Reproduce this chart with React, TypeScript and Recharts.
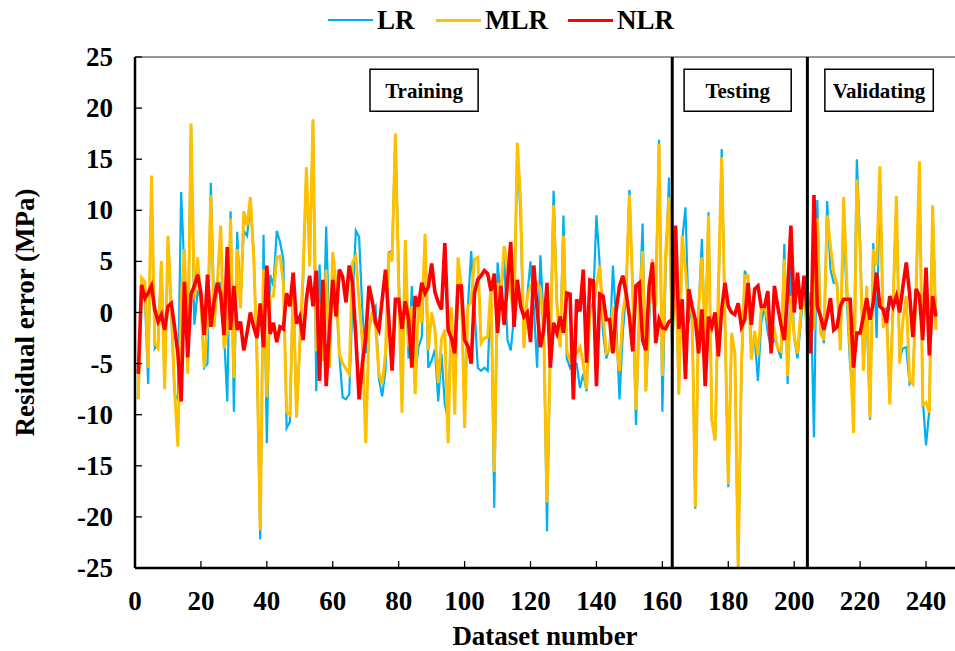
import React from 'react';
import { LineChart, Line, XAxis, YAxis, ReferenceLine, ReferenceArea, Label } from 'recharts';

// residual errors per dataset number (1..243)
const lrErrors = [
  -8.0, 3.0, 1.5, -7.0, 12.8, -3.5, -3.0, 5.0, -7.0, 6.8,
  0.0, -8.0, -8.5, 11.8, 4.0, -3.0, 18.3, -1.2, 2.0, 1.5,
  -5.4, -5.0, 12.7, 0.5, 2.0, 3.0, -2.0, -8.7, 9.9, -9.7,
  7.9, 1.0, 8.0, 7.5, 10.5, 6.0, -4.5, -22.2, 7.6, -12.8,
  3.7, 2.6, 8.0, 6.9, 5.2, -11.3, -10.7, 3.5, -10.0, -3.5,
  3.0, 13.8, 5.2, 18.5, -7.7, 4.7, -4.7, 8.4, -2.5, 4.2,
  2.0, -4.2, -8.3, -8.5, -8.0, 1.0, 8.0, 7.4, 0.0, -4.0,
  -1.7, 0.0, 0.6, -6.5, -8.2, -5.6, 5.9, 6.0, 17.2, 4.2,
  -8.0, 5.0, -4.5, 2.6, -6.0, -3.4, -2.4, 6.0, -5.4, -4.7,
  -3.6, -8.7, -4.0, -9.0, -10.5, 0.0, -8.0, 3.0, 2.0, -9.0,
  0.6, 6.0, 0.6, -5.4, -5.7, -5.4, -5.7, 2.6, -19.1, 4.9,
  1.5, 5.5, -2.7, -3.7, -0.4, 16.3, 9.0, -3.2, 1.6, 5.0,
  0.6, -5.4, 5.6, -1.0, -21.4, -3.0, 11.9, 1.0, -3.4, 9.5,
  -4.5, -5.4, -4.8, -5.0, -7.4, -6.0, -7.7, 0.0, 1.0, 9.5,
  4.6, -2.0, -4.5, -3.4, 4.6, -1.0, -8.5, -2.0, 2.0, 12.0,
  2.0, -11.0, 0.0, 8.7, -7.7, -1.0, 5.2, 2.0, 16.9, -9.7,
  4.0, 13.2, -4.0, 5.0, -8.0, 7.0, 10.3, -1.0, 0.6, -19.2,
  0.3, 7.2, -4.0, 9.8, -10.5, -12.5, 1.0, 16.0, -1.0, -17.1,
  -2.0, -4.0, -25.0, -6.0, 4.1, 3.2, -3.5, -2.5, -6.7, -1.0,
  0.6, -2.0, -3.5, -2.5, -3.5, -4.5, 6.7, -7.0, 5.0, -2.5,
  -4.5, -1.0, 2.6, -3.0, 2.0, -12.2, 11.0, -1.0, -3.0, 10.9,
  4.2, 2.9, 2.9, -2.5, 8.8, 1.0, -5.5, -6.5, 15.0, 7.0,
  -5.0, 0.0, -10.5, 6.8, -2.5, 13.0, -1.0, 0.5, -8.0, 1.0,
  10.5, -4.5, -3.5, -3.4, -7.0, -6.5, 2.0, 14.0, -8.5, -13.0,
  -9.5, 10.3, -1.5,
];

const mlrErrors = [
  -8.5, 3.4, 3.0, -5.4, 13.4, -3.0, -3.5, 5.0, -7.5, 7.5,
  0.5, -7.5, -13.1, 1.0, 6.2, -6.0, 18.5, 1.3, 5.4, 1.0,
  -5.4, -1.0, 11.5, -1.4, 3.0, 8.5, -3.5, -2.0, 9.2, -6.4,
  6.2, 0.4, 9.9, 8.5, 11.3, 5.5, -4.0, -21.3, 4.2, -8.3,
  1.6, 1.6, 5.4, 5.5, 2.9, -9.7, -10.0, 2.6, -10.3, -3.0,
  4.0, 14.2, 4.5, 18.9, -3.8, 0.9, -4.7, 4.2, -5.4, 5.9,
  2.9, -4.0, -5.0, -5.5, -6.0, 4.9, 5.5, 1.0, -3.0, -12.8,
  -1.7, 0.0, -1.4, -6.0, -7.0, -4.0, 5.9, 5.0, 17.5, 2.6,
  -9.8, 7.1, -3.4, 0.6, -8.0, 1.0, -1.0, 7.7, -3.7, 0.0,
  -1.7, -6.9, -2.6, -1.7, -12.8, 0.5, -10.0, 5.4, 2.6, -11.3,
  0.6, 1.0, 5.2, 5.4, -3.0, -2.5, -2.4, 2.6, -15.6, 2.9,
  1.9, 6.5, 4.6, 1.9, -0.4, 16.6, 10.9, -3.5, 1.6, 2.6,
  2.3, 2.9, 2.3, -2.0, -18.6, -3.6, 10.5, 0.8, -3.4, 7.5,
  -3.7, -4.7, -4.3, -4.0, -3.4, -5.0, -7.5, 0.0, 0.5, 2.6,
  4.6, 0.0, -4.0, -3.7, 0.6, -3.0, -5.7, 0.0, 2.0, 11.5,
  2.6, -9.5, 0.0, 6.0, -7.7, 1.0, 5.2, 0.6, 16.5, -6.2,
  5.9, 11.3, -2.5, 5.9, -8.0, 7.5, 4.2, 0.0, 0.6, -19.0,
  0.3, 5.4, -3.0, 9.5, -10.5, -12.5, 2.6, 15.2, -0.7, -16.8,
  -2.0, -4.0, -25.0, -5.0, 3.6, 3.6, -4.6, -1.8, -4.2, 0.3,
  0.6, -0.7, -2.3, -1.7, -3.5, -3.8, 5.2, -6.2, 1.6, -2.3,
  -4.0, 0.0, 2.6, -2.3, 0.6, -1.7, 9.2, -2.0, -2.7, 9.5,
  6.5, 3.9, 2.6, -3.7, 11.3, 2.6, -4.0, -11.8, 13.0, 5.9,
  -5.7, 2.6, -10.3, 6.2, 4.6, 14.3, -1.5, 0.0, -9.0, 0.6,
  11.4, -5.0, -0.7, 1.6, -6.6, -7.0, 2.6, 14.8, -9.0, -8.8,
  -9.8, 10.5, -1.7,
];

const nlrErrors = [
  -6.0, 2.7, 1.4, 1.9, 2.6, 0.3, -0.9, -0.2, -1.7, 0.6,
  0.9, -1.4, -4.0, -8.7, 3.0, -4.4, 1.8, 2.6, 3.7, 1.9,
  -2.2, 3.7, -1.4, 1.1, 2.9, 1.8, -2.2, 6.4, -1.7, 2.6,
  -1.7, -0.9, -3.7, -2.0, 0.0, -1.4, -2.5, 0.9, -3.4, 4.6,
  -2.1, -1.0, -2.9, -1.4, -1.6, 1.9, 0.6, 3.9, -1.1, -0.4,
  -2.7, 1.3, 3.6, 0.6, 4.1, -6.7, 3.2, -7.2, -1.7, 3.2,
  -0.4, 4.2, 3.5, 1.0, 4.6, 2.9, -2.4, -8.5, -5.0, -2.4,
  2.6, 1.1, -1.0, -1.7, 1.3, 4.2, -0.7, -5.7, 1.3, 1.3,
  -1.6, 1.1, -0.7, -5.4, 1.6, 0.6, 2.9, 1.9, 2.5, 4.8,
  2.0, 1.0, 0.3, 6.8, -1.7, -2.5, -4.0, 2.6, 2.6, -2.7,
  -3.3, -5.0, 1.9, 3.2, 3.6, 4.1, 3.8, 2.1, 3.8, -2.0,
  2.6, -1.2, 3.0, 6.9, -1.4, 3.2, 0.6, -0.4, 0.0, -2.9,
  4.6, 0.3, -3.4, -1.7, 2.9, -5.4, -1.0, -2.0, -0.4, -2.0,
  1.9, 1.8, -8.5, 1.3, 0.1, 4.2, -4.9, 3.2, 3.1, -7.2,
  1.8, 1.6, -0.7, -0.7, -4.0, 0.3, 2.6, 3.6, 1.9, -0.4,
  -3.8, 2.6, 2.9, -2.7, -3.7, 2.6, 4.9, -3.0, -0.7, -1.5,
  -1.6, -0.9, -0.7, 8.5, -1.6, 1.3, -6.5, 2.3, 0.6, -0.7,
  -4.0, 0.3, -7.2, -0.4, -1.4, 0.0, -4.3, 0.3, 2.9, 0.6,
  0.0, -0.2, 0.9, -1.4, -0.7, 2.9, -1.2, 2.3, 2.6, 0.6,
  0.6, 2.1, -4.0, 2.6, 0.6, -1.2, -2.7, 1.9, 8.5, 0.0,
  3.9, 0.3, 3.6, 0.0, -4.0, 11.5, 0.6, -0.4, -1.7, -0.4,
  1.4, -1.7, -1.4, 0.6, 1.3, 1.3, 1.3, -5.4, -2.0, -2.0,
  -0.4, 1.4, -0.7, 1.0, 3.9, 0.6, 0.3, -1.0, 1.6, 0.6,
  1.6, 0.0, 2.6, 4.9, 1.9, -2.4, 2.3, 1.6, -2.7, 4.4,
  -4.2, 1.6, -0.4,
];

const xTicks = [0, 20, 40, 60, 80, 100, 120, 140, 160, 180, 200, 220, 240];
const yTicks = [-25, -20, -15, -10, -5, 0, 5, 10, 15, 20, 25];

// boundaries between the training / testing / validating subsets
const splitPoints = [163, 204];
const phases = [
  { name: 'Training', x1: 71.3, x2: 104.1 },
  { name: 'Testing', x1: 166.6, x2: 199.1 },
  { name: 'Validating', x1: 209.3, x2: 242.2 },
];

const series = [
  { key: 'LR', color: '#00B0F0', width: 2.2, legendLeft: 328 },
  { key: 'MLR', color: '#FFC000', width: 3, legendLeft: 436 },
  { key: 'NLR', color: '#FF0000', width: 3.6, legendLeft: 568 },
];

const rows = lrErrors.map((v, i) => ({
  n: i + 1,
  LR: v,
  MLR: mlrErrors[i],
  NLR: nlrErrors[i],
}));

const FONT = "'Liberation Serif', 'Times New Roman', serif";
const FS = 27;

function XTick({ x, y, payload }: any) {
  return (
    <g>
      <line x1={x} x2={x} y1={y} y2={y - 7} stroke="#000" strokeWidth={1.3} />
      <text x={x} y={y + 42} textAnchor="middle" fontSize={FS} fontWeight="bold" fill="#000" fontFamily={FONT}>
        {payload.value}
      </text>
    </g>
  );
}

function YTick({ x, y, payload }: any) {
  return (
    <g>
      <line x1={x} x2={x + 7} y1={y} y2={y} stroke="#000" strokeWidth={1.3} />
      <text x={x - 22} y={y + 9} textAnchor="end" fontSize={FS} fontWeight="bold" fill="#000" fontFamily={FONT}>
        {payload.value}
      </text>
    </g>
  );
}

function YTitle({ viewBox }: any) {
  const cx = (viewBox?.x ?? 0) + 25;
  const cy = (viewBox?.y ?? 57) + (viewBox?.height ?? 511) / 2;
  return (
    <text x={cx} y={cy} transform={`rotate(-90 ${cx} ${cy})`} textAnchor="middle" dominantBaseline="central"
      fontSize={FS} fontWeight="bold" fill="#000" fontFamily={FONT}>
      Residual error (MPa)
    </text>
  );
}

function XTitle({ viewBox }: any) {
  const cx = (viewBox?.x ?? 135) + (viewBox?.width ?? 824) / 2 - 2;
  const cy = (viewBox?.y ?? 568) + 77;
  return (
    <text x={cx} y={cy} textAnchor="middle" fontSize={FS} fontWeight="bold" fill="#000" fontFamily={FONT}>
      Dataset number
    </text>
  );
}

function LegendRow() {
  return (
    <>
      {series.map((s) => (
        <div key={s.key} style={{ position: 'absolute', left: s.legendLeft, top: 5, display: 'flex', alignItems: 'center', fontFamily: FONT, fontWeight: 'bold', fontSize: FS, lineHeight: '30px' }}>
          <span style={{ display: 'inline-block', width: 45, height: s.key === 'LR' ? 2 : 3, background: s.color, marginRight: 4 }} />
          <span>{s.key}</span>
        </div>
      ))}
    </>
  );
}

export default function App() {
  return (
    <div style={{ position: 'absolute', left: 0, top: 0, width: 955, height: 651, overflow: 'hidden', background: '#fff', fontFamily: FONT }}>
      <LegendRow />
      <LineChart width={960} height={651} data={rows} margin={{ top: 57, right: 1, bottom: 0, left: 0 }}>
        <XAxis
          dataKey="n"
          type="number"
          domain={[0, 250]}
          ticks={xTicks}
          interval={0}
          allowDataOverflow
          height={83}
          tickSize={0}
          tickMargin={0}
          tickLine={false}
          tick={<XTick />}
          axisLine={{ stroke: '#000', strokeWidth: 2.5 }}
        >
          <Label content={<XTitle />} />
        </XAxis>
        <YAxis
          type="number"
          domain={[-25, 25]}
          ticks={yTicks}
          interval={0}
          allowDataOverflow
          width={135}
          tickSize={0}
          tickMargin={0}
          tickLine={false}
          tick={<YTick />}
          axisLine={{ stroke: '#000', strokeWidth: 2.5 }}
        >
          <Label content={<YTitle />} />
        </YAxis>
        <ReferenceLine y={25} stroke="#333" strokeWidth={1.2} />
        {phases.map((p) => (
          <ReferenceArea
            key={p.name}
            x1={p.x1}
            x2={p.x2}
            y1={19.7}
            y2={23.8}
            fill="#fff"
            fillOpacity={1}
            stroke="#000"
            strokeWidth={1.5}
            label={{ value: p.name, position: 'center', fill: '#000', fontSize: 21, fontWeight: 'bold', fontFamily: FONT }}
          />
        ))}
        {series.map((s) => (
          <Line
            key={s.key}
            type="linear"
            dataKey={s.key}
            stroke={s.color}
            strokeWidth={s.width}
            dot={false}
            isAnimationActive={false}
          />
        ))}
        {splitPoints.map((x) => (
          <ReferenceLine key={x} x={x} stroke="#000" strokeWidth={3} />
        ))}
      </LineChart>
    </div>
  );
}
